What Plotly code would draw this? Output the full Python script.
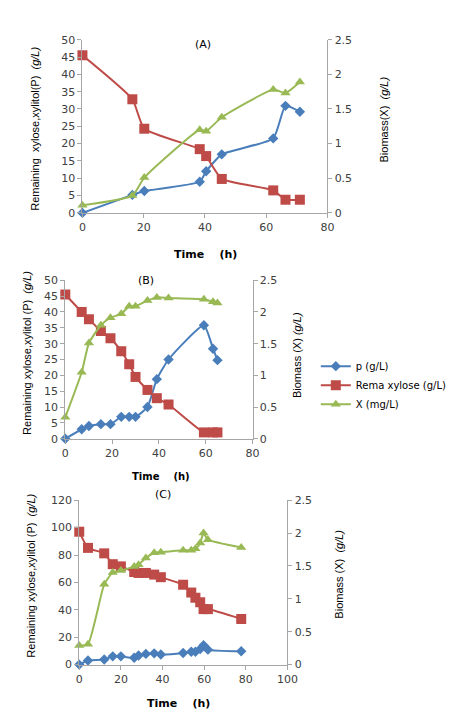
import plotly.graph_objects as go

# Panel A
a_t = [0, 16.3, 20.2, 38.3, 40.4, 45.5, 62.3, 66.3, 71]
a_p = [0, 5.2, 6.3, 9.0, 12.0, 16.9, 21.5, 30.9, 29.2]
a_xyl = [45.5, 32.8, 24.3, 18.4, 16.4, 9.8, 6.5, 3.8, 3.8]
a_x = [0.11, 0.25, 0.51, 1.2, 1.18, 1.38, 1.78, 1.73, 1.89]

# Panel B
b_t = [0, 7.0, 10.1, 15.2, 19.3, 23.9, 27.3, 30, 35.1, 39.1, 44.1, 59.2, 63.1, 65]
b_p = [0, 3.0, 4.0, 4.6, 4.6, 6.9, 6.9, 6.9, 10.0, 18.8, 25.0, 35.8, 28.4, 24.8]
b_xyl = [45.5, 40.0, 37.7, 34.0, 31.7, 27.6, 23.5, 19.5, 15.4, 12.8, 10.8, 2.0, 2.0, 2.0]
b_x = [0.34, 1.05, 1.51, 1.79, 1.91, 1.97, 2.09, 2.09, 2.18, 2.23, 2.22, 2.20, 2.16, 2.14]

# Panel C
c_t = [0, 4.2, 12, 16.1, 20, 26.4, 28.5, 32, 36, 39.2, 49.9, 53.8, 55.8, 58.1, 59.7, 61.8, 77.8]
c_p = [0, 3.0, 3.7, 6.0, 6.0, 5.0, 6.6, 7.8, 8.2, 7.4, 8.5, 9.4, 9.4, 11.3, 14.2, 10.9, 9.7]
c_xyl = [97, 85.2, 81.2, 73.3, 71.7, 67.6, 66.9, 66.9, 65.7, 63.8, 58.3, 52.6, 48.8, 45.5, 40.5, 40.5, 33.3]
c_x = [0.29, 0.31, 1.22, 1.40, 1.43, 1.49, 1.52, 1.62, 1.70, 1.71, 1.74, 1.74, 1.76, 1.85, 2.00, 1.90, 1.78]

names = ["p (g/L)", "Rema xylose (g/L)", "X (mg/L)"]
BLUE, RED, GREEN = "#4a7ebb", "#be4b48", "#98b954"
W, H = 474, 720

TICKFONT = dict(family="DejaVu Sans", size=11, color="#404040")
LBLFONT = dict(family="Liberation Sans", size=11, color="#000000")


def px_x(v):
    return v / W


def px_y(v):
    return 1 - v / H


fig = go.Figure()

panels = [
    (a_t, a_p, a_xyl, a_x, "x", "y", "y2", False),
    (b_t, b_p, b_xyl, b_x, "x2", "y3", "y4", True),
    (c_t, c_p, c_xyl, c_x, "x3", "y5", "y6", False),
]

for t, p, xyl, bio, xa, ya, ya2, leg in panels:
    fig.add_trace(go.Scatter(
        x=t, y=p, name=names[0], xaxis=xa, yaxis=ya, showlegend=leg,
        mode="lines+markers", line=dict(color=BLUE, width=2, shape="spline", smoothing=0.5),
        marker=dict(symbol="diamond", size=8, color=BLUE), cliponaxis=False))
    fig.add_trace(go.Scatter(
        x=t, y=xyl, name=names[1], xaxis=xa, yaxis=ya, showlegend=leg,
        mode="lines+markers", line=dict(color=RED, width=2, shape="spline", smoothing=0.5),
        marker=dict(symbol="square", size=10, color=RED), cliponaxis=False))
    fig.add_trace(go.Scatter(
        x=t, y=bio, name=names[2], xaxis=xa, yaxis=ya2, showlegend=leg,
        mode="lines+markers", line=dict(color=GREEN, width=2, shape="spline", smoothing=0.5),
        marker=dict(symbol="triangle-up", size=9, color=GREEN), cliponaxis=False))


def ax(dom, rng, dt, anchor):
    return dict(domain=dom, range=rng, dtick=dt, tick0=0, anchor=anchor,
                showgrid=False, zeroline=False, showline=True, linecolor="#a6a6a6",
                ticks="outside", ticklen=4, tickcolor="#a6a6a6", tickfont=TICKFONT)


def y2ax(over, rng, anchor):
    return dict(overlaying=over, side="right", range=rng, dtick=0.5, tick0=0, anchor=anchor,
                showgrid=False, zeroline=False, showline=True, linecolor="#a6a6a6",
                ticks="outside", ticklen=4, tickcolor="#a6a6a6", tickfont=TICKFONT)


dA_x = [px_x(81), px_x(334)]
dA_y = [px_y(210.7), px_y(34.3)]
dB_x = [px_x(63.3), px_x(256.7)]
dB_y = [px_y(440.7), px_y(279.3)]
dC_x = [px_x(77.7), px_x(292.7)]
dC_y = [px_y(670.7), px_y(503.3)]

fig.update_layout(
    width=W, height=H,
    margin=dict(l=0, r=0, t=0, b=0),
    paper_bgcolor="white", plot_bgcolor="white",
    hovermode=False,
    xaxis=ax(dA_x, [0, 80], 20, "y"),
    yaxis=ax(dA_y, [0, 50], 5, "x"),
    yaxis2=y2ax("y", [0, 2.5], "x"),
    xaxis2=ax(dB_x, [0, 80], 20, "y3"),
    yaxis3=ax(dB_y, [0, 50], 5, "x2"),
    yaxis4=y2ax("y3", [0, 2.5], "x2"),
    xaxis3=ax(dC_x, [0, 100], 20, "y5"),
    yaxis5=ax(dC_y, [0, 120], 20, "x3"),
    yaxis6=y2ax("y5", [0, 2.5], "x3"),
    legend=dict(x=px_x(322), y=px_y(352), xanchor="left", yanchor="top",
                font=dict(family="DejaVu Sans", size=10, color="#000000"),
                bgcolor="rgba(0,0,0,0)", tracegroupgap=0, itemwidth=30),
)

nb = "\u00a0"
ann = [
    ("(A)", 205, 39, 0, dict(family="DejaVu Sans", size=11, color="#000")),
    ("(B)", 147, 280, 0, dict(family="DejaVu Sans", size=11, color="#000")),
    ("(C)", 164, 497, 0, dict(family="DejaVu Sans", size=11, color="#000")),
    ("<b>Time" + nb * 4 + "(h)</b>", 208, 253, 0, dict(family="DejaVu Sans", size=11, color="#000")),
    ("<b>Time" + nb * 4 + "(h)</b>", 162, 479, 0, dict(family="DejaVu Sans", size=10, color="#000")),
    ("<b>Time" + nb * 4 + "(h)</b>", 180, 710, 0, dict(family="DejaVu Sans", size=11, color="#000")),
    ("Remaining  xylose,xylitol(P)" + nb * 2 + "<i>(g/L)</i>", 32, 125, -90, LBLFONT),
    ("Biomass(X)" + nb * 2 + "<i>(g/L)</i>", 392, 116, -90, LBLFONT),
    ("Remaining xylose,xylitol (P)" + nb * 2 + "<i>(g/L)</i>", 23, 353, -90, LBLFONT),
    ("Biomass (X)" + nb + "<i>(g/L)</i>", 302, 355, -90, LBLFONT),
    ("Remaining xylose,xylitol (P)" + nb * 2 + "<i>(g/L)</i>", 27, 580, -90, LBLFONT),
    ("Biomass (X)" + nb * 2 + "<i>(g/L)</i>", 345, 579, -90, LBLFONT),
]
for text, x, y, ang, font in ann:
    fig.add_annotation(text=text, x=px_x(x), y=px_y(y), xref="paper", yref="paper",
                       showarrow=False, textangle=ang, font=font,
                       xanchor="center", yanchor="middle")

# page body has an 8px default margin; drop it so the figure sits at 0,0
fig.write_html("out.html", config={"displayModeBar": False},
               post_script="document.body.style.margin='0';")
